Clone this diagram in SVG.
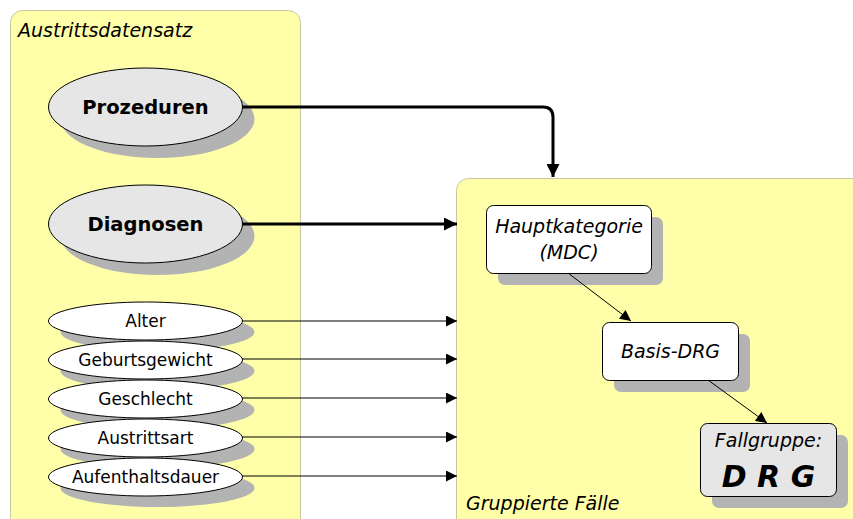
<svg xmlns="http://www.w3.org/2000/svg" width="853" height="519" viewBox="0 0 853 519">
<defs>
<style>
.cont{fill:#ffffaa;stroke:#c8c8a0;stroke-width:1}
.shadow{fill:#b3b3b3}
.big{fill:#e6e6e6;stroke:#000;stroke-width:1}
.small{fill:#fff;stroke:#000;stroke-width:1}
.box{fill:#fff;stroke:#000;stroke-width:1}
.boxg{fill:#e6e6e6;stroke:#000;stroke-width:1}
.title{font-family:"DejaVu Sans",sans-serif;font-style:italic;font-size:19px;fill:#000}
.bl{font-family:"DejaVu Sans",sans-serif;font-weight:bold;font-size:19.5px;text-anchor:middle;fill:#000}
.sl{font-family:"DejaVu Sans",sans-serif;font-size:17px;text-anchor:middle;fill:#000}
.il{font-family:"DejaVu Sans",sans-serif;font-style:italic;font-size:19px;text-anchor:middle;fill:#000}
.drg{font-family:"DejaVu Sans",sans-serif;font-style:italic;font-weight:bold;font-size:30px;text-anchor:middle;fill:#000}
.thick{fill:none;stroke:#000;stroke-width:3}
.thin{fill:none;stroke:#000;stroke-width:1}
</style>
<marker id="ah" viewBox="0 0 10 10" refX="10" refY="5" markerWidth="18" markerHeight="13" markerUnits="userSpaceOnUse" orient="auto"><path d="M0,0 L10,5 L0,10 z" fill="#000"/></marker>
<marker id="ahs" viewBox="0 0 10 10" refX="10" refY="5" markerWidth="16" markerHeight="11" markerUnits="userSpaceOnUse" orient="auto"><path d="M0,0 L10,5 L0,10 z" fill="#000"/></marker>
</defs>

<g id="austrittsdatensatz">
<rect class="cont" x="10.5" y="10.5" width="290" height="520" rx="12"/>
<text class="title" x="18" y="37">Austrittsdatensatz</text>
</g>

<g id="gruppierte-faelle">
<rect class="cont" x="456.5" y="178.5" width="410" height="360" rx="12"/>
<text class="title" x="466" y="510">Gruppierte Fälle</text>
</g>

<g id="prozeduren">
<ellipse class="shadow" cx="157.5" cy="119" rx="97" ry="39"/>
<ellipse class="big" cx="145.5" cy="107" rx="97" ry="39"/>
<text class="bl" x="145.5" y="114">Prozeduren</text>
</g>

<g id="diagnosen">
<ellipse class="shadow" cx="157.5" cy="236" rx="97" ry="39"/>
<ellipse class="big" cx="145.5" cy="224" rx="97" ry="39"/>
<text class="bl" x="145.5" y="231">Diagnosen</text>
</g>

<g id="alter">
<ellipse class="shadow" cx="157.5" cy="332" rx="97" ry="19"/>
<ellipse class="small" cx="145.5" cy="321" rx="97" ry="19"/>
<text class="sl" x="145.5" y="327">Alter</text>
</g>
<g id="geburtsgewicht">
<ellipse class="shadow" cx="157.5" cy="371" rx="97" ry="19"/>
<ellipse class="small" cx="145.5" cy="360" rx="97" ry="19"/>
<text class="sl" x="145.5" y="366">Geburtsgewicht</text>
</g>
<g id="geschlecht">
<ellipse class="shadow" cx="157.5" cy="410" rx="97" ry="19"/>
<ellipse class="small" cx="145.5" cy="399" rx="97" ry="19"/>
<text class="sl" x="145.5" y="405">Geschlecht</text>
</g>
<g id="austrittsart">
<ellipse class="shadow" cx="157.5" cy="449" rx="97" ry="19"/>
<ellipse class="small" cx="145.5" cy="438" rx="97" ry="19"/>
<text class="sl" x="145.5" y="444">Austrittsart</text>
</g>
<g id="aufenthaltsdauer">
<ellipse class="shadow" cx="157.5" cy="488" rx="97" ry="19"/>
<ellipse class="small" cx="145.5" cy="477" rx="97" ry="19"/>
<text class="sl" x="145.5" y="483">Aufenthaltsdauer</text>
</g>

<g id="hauptkategorie">
<rect class="shadow" x="498" y="217" width="165" height="68" rx="7"/>
<rect class="box" x="486.5" y="205.5" width="165" height="68" rx="7"/>
<text class="il" x="569" y="233">Hauptkategorie</text>
<text class="il" x="569" y="259">(MDC)</text>
</g>

<g id="basis-drg">
<rect class="shadow" x="614" y="334" width="136" height="58" rx="7"/>
<rect class="box" x="602.5" y="322.5" width="136" height="58" rx="7"/>
<text class="il" x="670.5" y="358">Basis-DRG</text>
</g>

<g id="fallgruppe">
<rect class="shadow" x="712" y="435" width="136" height="73" rx="7"/>
<rect class="boxg" x="700.5" y="423.5" width="136" height="73" rx="7"/>
<text class="il" x="768.5" y="447">Fallgruppe:</text>
<text class="drg" x="768.5" y="487">D R G</text>
</g>

<g id="connectors">
<path class="thick" d="M242,107 H543 Q553,107 553,117 V177" marker-end="url(#ah)"/>
<path class="thick" d="M242,224 H457" marker-end="url(#ah)"/>
<path class="thin" d="M242,321 H457" marker-end="url(#ahs)"/>
<path class="thin" d="M242,359 H457" marker-end="url(#ahs)"/>
<path class="thin" d="M242,398 H457" marker-end="url(#ahs)"/>
<path class="thin" d="M242,437 H457" marker-end="url(#ahs)"/>
<path class="thin" d="M242,476 H457" marker-end="url(#ahs)"/>
<path class="thin" d="M568,273 L631,321" marker-end="url(#ahs)"/>
<path class="thin" d="M708,380 L767,423" marker-end="url(#ahs)"/>
</g>
</svg>
